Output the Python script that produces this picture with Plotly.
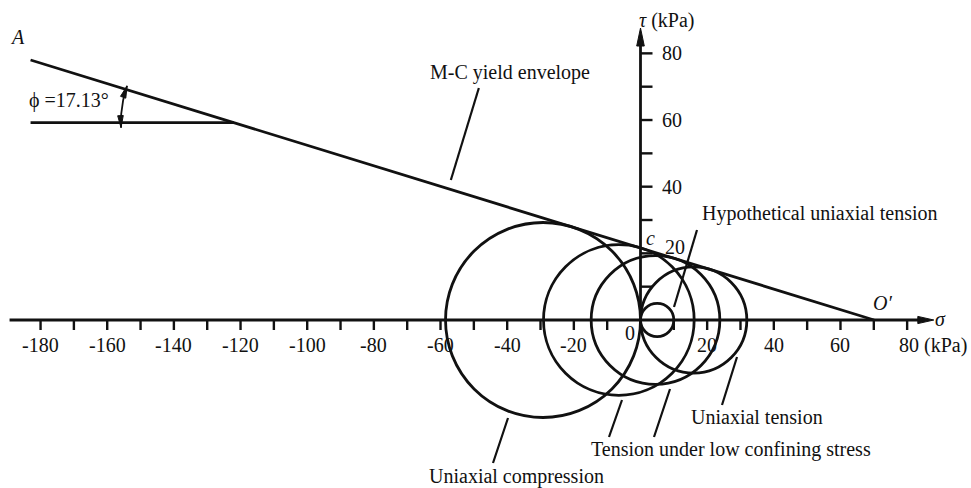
import numpy as np
import plotly.graph_objects as go

# ---- Mohr-Coulomb parameters (kPa, degrees) ----
cohesion = 21.6
friction_angle = 17.13
sigma_envelope_start = -183.0
phi_ref_tau = 59.2          # level of the horizontal reference line for the angle

# ---- Mohr circles: principal stresses (kPa) ----
circle_names = ["Uniaxial compression",
                "Tension under low confining stress (a)",
                "Tension under low confining stress (b)",
                "Uniaxial tension",
                "Hypothetical uniaxial tension"]
sigma_lo = [-58.5, -29.1, -14.8, 0.0, 0.0]
sigma_hi = [0.0, 16.1, 23.8, 31.9, 10.0]

# ---- axes ----
x_major = [-180, -160, -140, -120, -100, -80, -60, -40, -20, 0, 20, 40, 60, 80]
x_major_text = ["-180", "-160", "-140", "-120", "-100", "-80", "-60", "-40", "-20",
                "0", "20", "40", "60", "80 (kPa)"]
x_minor = list(range(-180, 81, 10))
y_ticks = [10, 20, 30, 40, 50, 60, 70, 80]
y_major = [20, 40, 60, 80]
y_major_text = ["20", "40", "60", "80"]

# ---- page geometry ----
W, H = 971, 488
K = 3.333                     # pixels per kPa (same on both axes)
X0_PX, Y0_PX = 640.5, 320.0   # pixel position of the origin
x_range = [-X0_PX / K, (W - X0_PX) / K]
y_range = [-(H - Y0_PX) / K, Y0_PX / K]

INK = "#111111"
FONT = "'Liberation Serif', 'Times New Roman', 'DejaVu Serif', serif"
FS = 20
LW = 2.8

tanp = np.tan(np.radians(friction_angle))
sigma_O = cohesion / tanp


def tau_env(s):
    return cohesion - s * tanp


def head(tip, direction, length_px=13, half_px=3.2):
    """Filled arrowhead path (data coords) with its tip at `tip`."""
    d = np.asarray(direction, float)
    d = d / np.linalg.norm(d)
    n = np.array([-d[1], d[0]])
    t = np.asarray(tip, float)
    base = t - d * length_px / K
    p1 = base + n * half_px / K
    p2 = base - n * half_px / K
    return dict(type="path", xref="x", yref="y",
                path=f"M {t[0]},{t[1]} L {p1[0]},{p1[1]} L {p2[0]},{p2[1]} Z",
                fillcolor=INK, line=dict(color=INK, width=1))


fig = go.Figure()
shapes = []

# Mohr circles
for lo, hi in zip(sigma_lo, sigma_hi):
    r = (hi - lo) / 2
    shapes.append(dict(type="circle", xref="x", yref="y",
                       x0=lo, x1=hi, y0=-r, y1=r,
                       line=dict(color=INK, width=LW)))

# Yield envelope A -> O'
fig.add_trace(go.Scatter(x=[sigma_envelope_start, sigma_O],
                         y=[tau_env(sigma_envelope_start), 0],
                         mode="lines", line=dict(color=INK, width=LW),
                         hoverinfo="skip", showlegend=False))

# Horizontal reference line for the friction angle
sigma_int = (cohesion - phi_ref_tau) / tanp
fig.add_trace(go.Scatter(x=[sigma_envelope_start, sigma_int],
                         y=[phi_ref_tau, phi_ref_tau],
                         mode="lines", line=dict(color=INK, width=LW),
                         hoverinfo="skip", showlegend=False))

# Angle arc with arrowheads at both ends
rad = 113 / K
th = np.radians(np.linspace(182.5, 161.0, 40))
fig.add_trace(go.Scatter(x=sigma_int + rad * np.cos(th),
                         y=phi_ref_tau + rad * np.sin(th),
                         mode="lines", line=dict(color=INK, width=1.8),
                         hoverinfo="skip", showlegend=False))
t0, t1 = th[0], th[-1]
shapes.append(head((sigma_int + rad * np.cos(t0), phi_ref_tau + rad * np.sin(t0)),
                   (-np.sin(t0), np.cos(t0)), 12, 2.8))
shapes.append(head((sigma_int + rad * np.cos(t1), phi_ref_tau + rad * np.sin(t1)),
                   (np.sin(t1), -np.cos(t1)), 12, 2.8))

# Axis lines with arrowheads
x_axis_end = 88.0
y_axis_end = 87.6
shapes.append(dict(type="line", xref="x", yref="y", x0=-189.3, x1=x_axis_end - 3,
                   y0=0, y1=0, line=dict(color=INK, width=LW)))
shapes.append(head((x_axis_end, 0), (1, 0), 16, 3.6))
shapes.append(dict(type="line", xref="x", yref="y", x0=0, x1=0,
                   y0=0, y1=y_axis_end - 3, line=dict(color=INK, width=LW)))
shapes.append(head((0, y_axis_end), (0, 1), 18, 3.8))

# Tick marks
tx, ty = [], []
for v in x_minor:
    tx += [v, v, None]
    ty += [0, -10 / K, None]
for v in y_ticks:
    tx += [0, 12 / K, None]
    ty += [v, v, None]
fig.add_trace(go.Scatter(x=tx, y=ty, mode="lines",
                         line=dict(color=INK, width=2.4),
                         hoverinfo="skip", showlegend=False))

# Leader lines for the labels
leaders = [
    ((-48.5, 69.6), (-56.9, 42.0)),
    ((16.95, 27.0), (10.05, 3.9)),
    ((28.95, -11.1), (24.45, -25.5)),
    ((-5.55, -24.0), (-9.45, -35.1)),
    ((8.85, -20.7), (4.05, -35.1)),
    ((-39.75, -29.4), (-44.25, -42.9)),
]
for (a, b) in leaders:
    shapes.append(dict(type="line", xref="x", yref="y",
                       x0=a[0], y0=a[1], x1=b[0], y1=b[1],
                       line=dict(color=INK, width=2.2)))

ann = []


def label(x, y, text, xanchor="center", yanchor="middle", size=FS):
    ann.append(dict(x=x, y=y, xref="x", yref="y", text=text, showarrow=False,
                    xanchor=xanchor, yanchor=yanchor,
                    font=dict(family=FONT, size=size, color=INK)))


# x tick labels
for v, t in zip(x_major, x_major_text):
    if v == 0:
        label(-3.15, -3.9, t)
    elif v == 80:
        label(v - 3.05, -7.5, t, xanchor="left")
    else:
        label(v, -7.5, t)

# y tick labels
for v, t in zip(y_major, y_major_text):
    if v == 20:
        label(10.35, 21.9, t)
    else:
        label(9.45, v, t)

label(-186.8, 84.9, "<i>A</i>")
label(-184.1, 66.0, "ϕ =17.13°", xanchor="left")
label(-39.2, 74.4, "M-C yield envelope")
label(-1.1, 90.0, "<i>τ</i> (kPa)", xanchor="left")
label(2.85, 24.6, "<i>c</i>")
label(17.85, 32.1, "Hypothetical uniaxial tension", xanchor="left")
label(72.5, 5.1, "<i>O′</i>")
label(89.9, 0.3, "<i>σ</i>")
label(14.55, -29.1, "Uniaxial tension", xanchor="left")
label(-15.45, -39.0, "Tension under low confining stress", xanchor="left")
label(-64.05, -47.1, "Uniaxial compression", xanchor="left")

fig.update_layout(
    width=W, height=H, autosize=False,
    margin=dict(l=0, r=0, t=0, b=0),
    paper_bgcolor="white", plot_bgcolor="white",
    font=dict(family=FONT, color=INK),
    xaxis=dict(range=x_range, visible=False, fixedrange=True),
    yaxis=dict(range=y_range, visible=False, fixedrange=True),
    shapes=shapes, annotations=ann, showlegend=False,
)

fig.write_html("out.html")
